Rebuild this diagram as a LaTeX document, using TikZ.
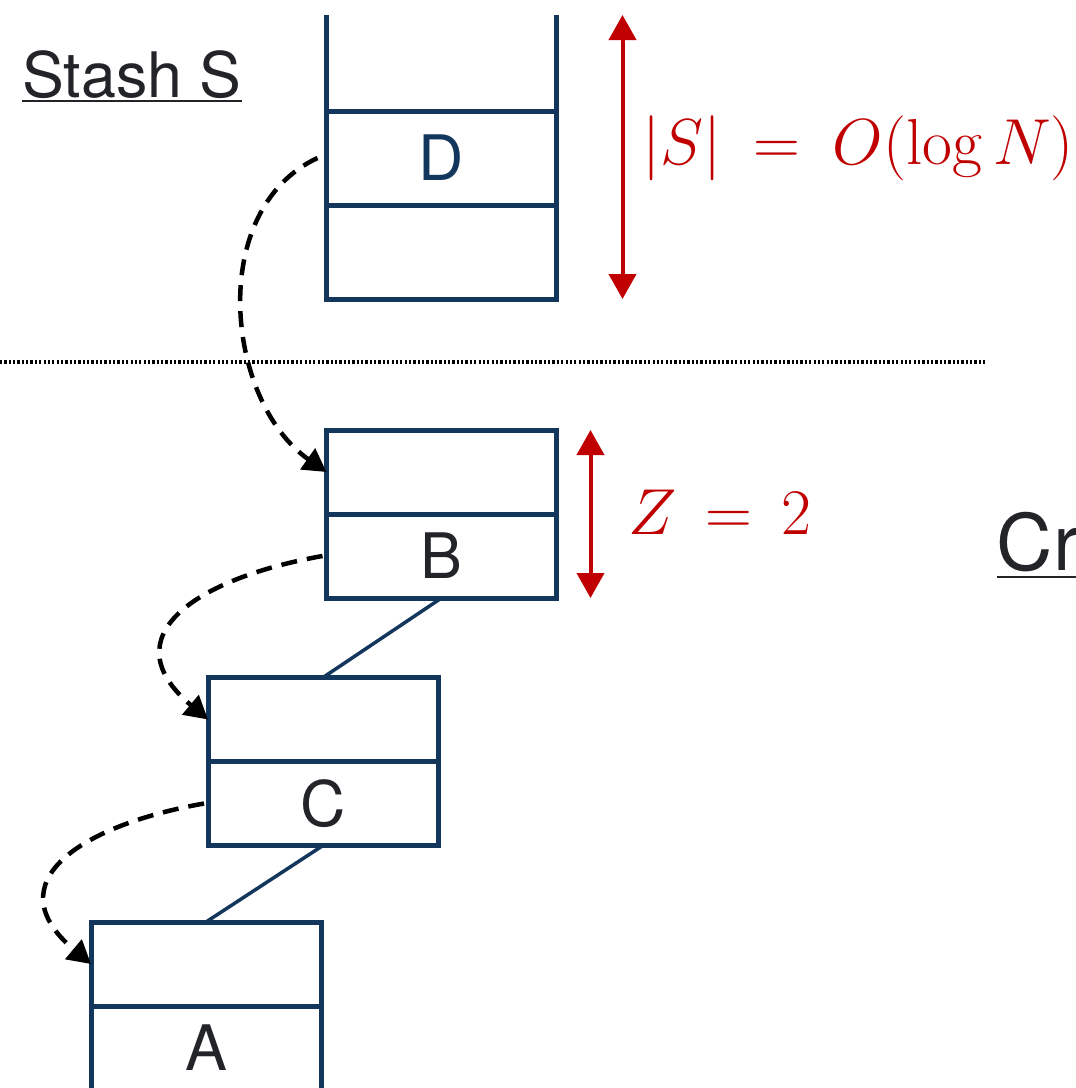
\documentclass[tikz,border=0pt]{standalone}
\usepackage{fix-cm}
\usepackage{fontspec}
\newfontfamily\helv{TeX Gyre Heros}
\usepackage{tikz}
\usetikzlibrary{positioning,arrows.meta}
\definecolor{boxblue}{RGB}{18,54,92}
\definecolor{sizered}{RGB}{192,0,0}
\definecolor{inkgray}{RGB}{34,36,40}

\begin{document}
\begin{tikzpicture}[
    cell/.style={rectangle, draw=boxblue, line width=0.1cm, minimum width=4.6cm, minimum height=1.68cm, inner sep=0pt, outer sep=0pt, text=inkgray, font=\helv\fontsize{35.7}{40}\selectfont},
    stashcell/.style={cell, minimum height=1.88cm},
    link/.style={draw=boxblue, line width=0.07cm},
    moved/.style={-{Triangle[length=0.46cm,width=0.5cm]}, line width=0.09cm, dash pattern=on 0.32cm off 0.2cm},
    sizearrow/.style={{Triangle[length=0.5cm,width=0.54cm]}-{Triangle[length=0.5cm,width=0.54cm]}, draw=sizered, line width=0.08cm},
    heading/.style={inner sep=0pt, anchor=base west, text=inkgray, font=\helv\fontsize{35.7}{40}\selectfont},
    sizelabel/.style={text=sizered, font=\fontsize{37}{44}\selectfont}
]
\useasboundingbox (0,0) rectangle (21.5,-21.76);

% Stash
\node[stashcell, text=boxblue] (D) at (8.83,-3.16) {D};
\node[stashcell, below=0pt of D] (slot) {};
\coordinate[above=1.92cm of D.north west] (openL);
\coordinate[above=1.92cm of D.north east] (openR);
\draw[draw=boxblue, line width=0.1cm] (openL) -- (D.north west) (openR) -- (D.north east);

\node[heading] (stash) at (0.44,-1.94) {Stash S};
\draw[inkgray, line width=0.04cm] ([yshift=-0.08cm]stash.base west) -- ([yshift=-0.08cm]stash.base east);

\draw[sizearrow] ([xshift=1.32cm]openR) -- ([xshift=1.32cm]slot.south east);
\node[sizelabel] (slen) at (17.16,-2.96) {$|S| \:=\: O(\log N)$};

% boundary
\coordinate (cutL) at (0,-7.24);
\coordinate (cutR) at (19.74,-7.24);
\draw[line width=0.08cm, dash pattern=on 0.045cm off 0.042cm] (cutL) -- (cutR);

% Buckets on the path
\node[cell] (Btop) at (8.83,-9.44) {};
\node[cell, below=0pt of Btop] (B) {B};
\node[cell] (Ctop) at (6.46,-14.39) {};
\node[cell, below=0pt of Ctop] (C) {C};
\node[cell] (Atop) at (4.12,-19.28) {};
\node[cell, below=0pt of Atop] (A) {A};

\draw[link] (B.south) -- (Ctop.north);
\draw[link] (C.south) -- (Atop.north);

\draw[sizearrow] ([xshift=0.68cm]Btop.north east) -- ([xshift=0.68cm]B.south east);
\node[sizelabel] (zlen) at (14.4,-10.24) {$Z \,=\, 2$};

% Moves down the path
\draw[moved] ([xshift=-0.18cm]D.west) to[out=205, in=145, looseness=1.0] (Btop.west);
\draw[moved] ([xshift=-0.08cm]B.west) to[out=190, in=140, looseness=1.65] (Ctop.west);
\draw[moved] ([xshift=-0.08cm]C.west) to[out=190, in=140, looseness=1.65] (Atop.west);

\node[heading, font=\helv\fontsize{44.4}{50}\selectfont] (crash) at (19.93,-11.4) {Cr};
\draw[inkgray, line width=0.04cm] ([yshift=-0.14cm]crash.base west) -- ([yshift=-0.14cm]crash.base east);

\end{tikzpicture}
\end{document}
